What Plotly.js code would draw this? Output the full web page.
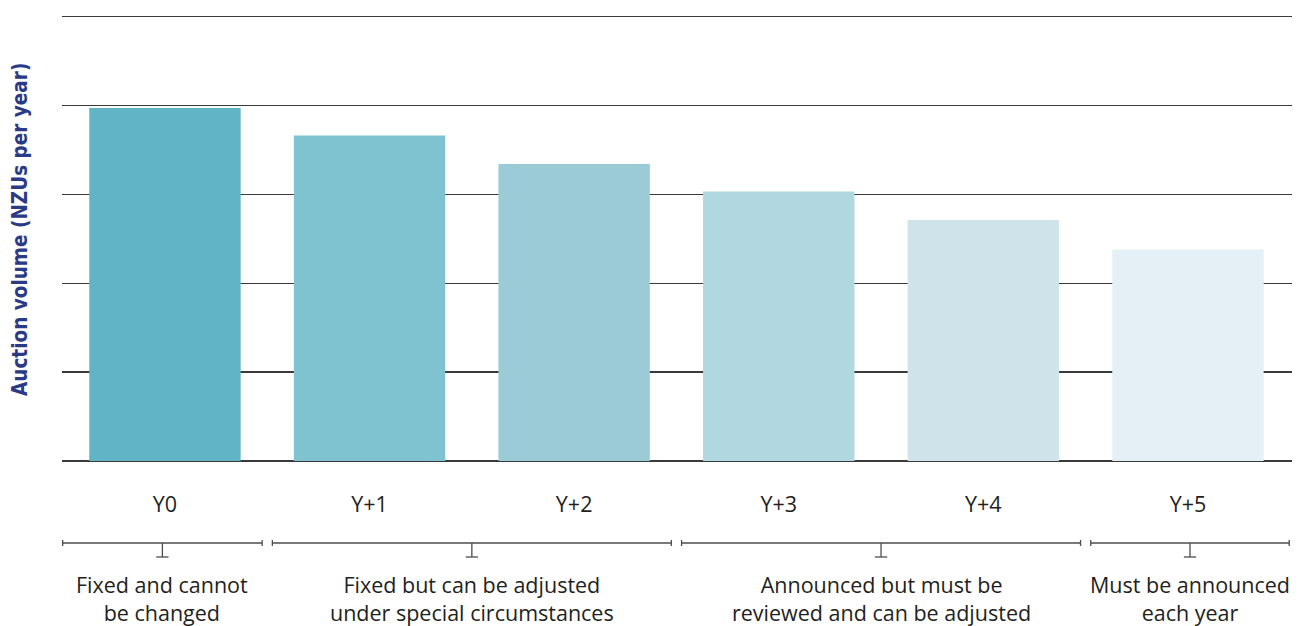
<!DOCTYPE html>
<html>
<head>
<meta charset="utf-8">
<script src="https://cdn.plot.ly/plotly-3.0.1.min.js"></script>
<style>html,body{margin:0;padding:0;background:#fff;}#chart{width:1302px;height:626px;}</style>
</head>
<body>
<div id="chart"></div>
<script>
// Data
const categories = ["Y0", "Y+1", "Y+2", "Y+3", "Y+4", "Y+5"];
const auctionVolume = [3.97, 3.66, 3.34, 3.03, 2.71, 2.38];
const barColors = ["#60b4c6", "#7fc2d0", "#9bcbd6", "#b1d7e0", "#cee3ea", "#e4f0f5"];
const groupLabels = ["Fixed and cannot<br>be changed",
                     "Fixed but can be adjusted<br>under special circumstances",
                     "Announced but must be<br>reviewed and can be adjusted",
                     "Must be announced<br>each year"];
const groupStart = [0, 1, 3, 5];
const groupEnd = [0, 2, 4, 5];
const yTitle = "Auction volume (NZUs per year)";

const textColor = "#231f20";
const lineColor = "#4d4d4d";
const labelFont = {family: "Open Sans, sans-serif", size: 21.5, color: textColor};
const shapes = [];
const annotations = [];
const yLine = -0.1826, yTickEnd = 0.0067, yCenterEnd = -0.2138;
for (let i = 0; i < groupLabels.length; i++) {
  const x0 = groupStart[i] - 0.5 + (i === 0 ? 0 : 0.025);
  const x1 = groupEnd[i] + 0.5 - (i === groupLabels.length - 1 ? 0.005 : 0.025);
  const xc = (x0 + x1) / 2;
  const ln = {color: lineColor, width: 1.3};
  shapes.push({type: "line", xref: "x", yref: "paper", x0: x0, x1: x1, y0: yLine, y1: yLine, line: ln});
  shapes.push({type: "line", xref: "x", yref: "paper", x0: x0, x1: x0, y0: yLine - yTickEnd, y1: yLine + yTickEnd, line: ln});
  shapes.push({type: "line", xref: "x", yref: "paper", x0: x1, x1: x1, y0: yLine - yTickEnd, y1: yLine + yTickEnd, line: ln});
  shapes.push({type: "line", xref: "x", yref: "paper", x0: xc, x1: xc, y0: yLine, y1: yCenterEnd, line: ln});
  shapes.push({type: "line", xref: "x", yref: "paper", x0: xc - 0.03, x1: xc + 0.03, y0: yCenterEnd, y1: yCenterEnd, line: ln});
  annotations.push({xref: "x", yref: "paper", x: xc, y: -0.238, yanchor: "top", xanchor: "center",
    text: groupLabels[i], showarrow: false, align: "center", font: labelFont});
}
// y-axis title as rotated annotation
annotations.push({xref: "paper", yref: "paper", x: 0, y: 0.5145, xanchor: "center", yanchor: "middle",
  xshift: -42, textangle: -90, showarrow: false, text: "<b>" + yTitle + "</b>",
  font: {family: "DejaVu Sans Condensed, Liberation Sans Narrow, sans-serif", size: 20.5, color: "#2b3a86"}});

const trace = {
  type: "bar",
  x: categories,
  y: auctionVolume,
  marker: {color: barColors, line: {width: 0}},
  hoverinfo: "x+y"
};

const layout = {
  width: 1302, height: 626,
  margin: {l: 62, r: 10, t: 12, b: 165},
  paper_bgcolor: "#ffffff", plot_bgcolor: "#ffffff",
  bargap: 0.26,
  showlegend: false,
  xaxis: {
    type: "category",
    showgrid: false, zeroline: false, showline: false,
    ticks: "", ticklabelstandoff: 28,
    tickfont: labelFont
  },
  yaxis: {
    range: [0, 5.05], tick0: 0, dtick: 1, showticklabels: false, ticks: "",
    showgrid: true, gridcolor: "#3a3a3a", gridwidth: 1.2,
    zeroline: true, zerolinecolor: "#3a3a3a", zerolinewidth: 1.2,
    showline: false, layer: "below traces"
  },
  shapes: shapes,
  annotations: annotations
};

Plotly.newPlot("chart", [trace], layout, {displayModeBar: false, staticPlot: true});
</script>
</body>
</html>
